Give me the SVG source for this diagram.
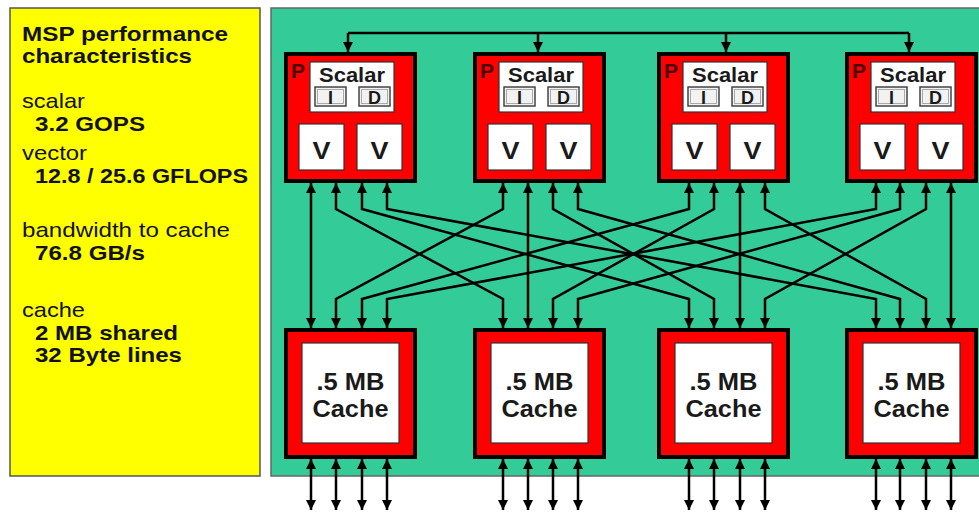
<svg xmlns="http://www.w3.org/2000/svg" width="979" height="512" viewBox="0 0 979 512">
<style>
.panel{fill:#ffff00;stroke:#555;stroke-width:1.5}
.green{fill:#33cc99;stroke:#666;stroke-width:1.5}
.box{fill:#ff0000;stroke:#000;stroke-width:4}
.wb{fill:#fff;stroke:#333;stroke-width:1.2}
.sb{fill:#f2f2f2;stroke:#444;stroke-width:1.5}
.sbi{fill:none;stroke:#aaa;stroke-width:1}
.lt{font-family:"Liberation Sans",Arial,sans-serif;font-size:21px;fill:#111}
.b{font-weight:bold}
.t{font-family:"Liberation Sans",Arial,sans-serif;font-weight:bold;fill:#1a1a1a;text-anchor:middle}
.p{font-family:"Liberation Sans",Arial,sans-serif;font-weight:bold;font-size:21px;fill:#4a0000}
.c{fill:none;stroke:#000;stroke-width:2.5;marker-start:url(#ah);marker-end:url(#ah)}
.bus{fill:none;stroke:#000;stroke-width:2.5}
.drop{fill:none;stroke:#000;stroke-width:2.5;marker-end:url(#ah)}
</style>
<defs>
<marker id="ah" viewBox="0 0 10 10" refX="10" refY="5" markerWidth="10" markerHeight="10" markerUnits="userSpaceOnUse" orient="auto-start-reverse">
<path d="M0,0 L10,5 L0,10 z" fill="#000"/>
</marker>
</defs>
<g id="info-panel">
<rect class="panel" x="10" y="8" width="250" height="468"/>
<text class="lt b" x="22" y="41" textLength="206" lengthAdjust="spacingAndGlyphs">MSP performance</text>
<text class="lt b" x="22" y="63" textLength="170" lengthAdjust="spacingAndGlyphs">characteristics</text>
<text class="lt" x="22" y="108" textLength="63" lengthAdjust="spacingAndGlyphs">scalar</text>
<text class="lt b" x="35" y="131" textLength="110" lengthAdjust="spacingAndGlyphs">3.2 GOPS</text>
<text class="lt" x="22" y="160" textLength="65" lengthAdjust="spacingAndGlyphs">vector</text>
<text class="lt b" x="35" y="183" textLength="213" lengthAdjust="spacingAndGlyphs">12.8 / 25.6 GFLOPS</text>
<text class="lt" x="22" y="237" textLength="208" lengthAdjust="spacingAndGlyphs">bandwidth to cache</text>
<text class="lt b" x="35" y="260" textLength="110" lengthAdjust="spacingAndGlyphs">76.8 GB/s</text>
<text class="lt" x="22" y="317" textLength="63" lengthAdjust="spacingAndGlyphs">cache</text>
<text class="lt b" x="35" y="340" textLength="143" lengthAdjust="spacingAndGlyphs">2 MB shared</text>
<text class="lt b" x="35" y="362" textLength="147" lengthAdjust="spacingAndGlyphs">32 Byte lines</text>
</g>
<g id="chip">
<rect class="green" x="271" y="8" width="712" height="468"/>
</g>
<g id="connectors">
<path class="bus" d="M348,33 H909"/>
<path class="drop" d="M348,33 V52"/>
<path class="drop" d="M538,33 V52"/>
<path class="drop" d="M726,33 V52"/>
<path class="drop" d="M909,33 V52"/>
<path class="c" d="M311,183 V328"/>
<path class="c" d="M336,183 V209 L503,299 V328"/>
<path class="c" d="M362,183 V209 L689,299 V328"/>
<path class="c" d="M387,183 V209 L876,299 V328"/>
<path class="c" d="M503,183 V209 L336,299 V328"/>
<path class="c" d="M528,183 V328"/>
<path class="c" d="M553,183 V209 L714,299 V328"/>
<path class="c" d="M578,183 V209 L900,299 V328"/>
<path class="c" d="M689,183 V209 L362,299 V328"/>
<path class="c" d="M714,183 V209 L553,299 V328"/>
<path class="c" d="M740,183 V328"/>
<path class="c" d="M765,183 V209 L926,299 V328"/>
<path class="c" d="M876,183 V209 L387,299 V328"/>
<path class="c" d="M900,183 V209 L578,299 V328"/>
<path class="c" d="M926,183 V209 L765,299 V328"/>
<path class="c" d="M951,183 V328"/>
<path class="c" d="M311,459 V510"/><path class="c" d="M336,459 V510"/><path class="c" d="M362,459 V510"/><path class="c" d="M387,459 V510"/>
<path class="c" d="M503,459 V510"/><path class="c" d="M528,459 V510"/><path class="c" d="M553,459 V510"/><path class="c" d="M578,459 V510"/>
<path class="c" d="M689,459 V510"/><path class="c" d="M714,459 V510"/><path class="c" d="M740,459 V510"/><path class="c" d="M765,459 V510"/>
<path class="c" d="M876,459 V510"/><path class="c" d="M900,459 V510"/><path class="c" d="M926,459 V510"/><path class="c" d="M951,459 V510"/>
</g>
<g id="proc1" transform="translate(284,0)">
<rect class="box" x="2" y="54" width="129" height="127"/>
<text class="p" x="7" y="78">P</text>
<rect class="wb" x="26" y="62" width="84" height="50"/>
<text class="t" x="68" y="82" font-size="20" textLength="66" lengthAdjust="spacingAndGlyphs">Scalar</text>
<rect class="sb" x="31" y="87" width="31" height="19"/><rect class="sbi" x="33.5" y="89.5" width="26" height="14"/>
<text class="t" x="46.5" y="104" font-size="18">I</text>
<rect class="sb" x="75" y="87" width="31" height="19"/><rect class="sbi" x="77.5" y="89.5" width="26" height="14"/>
<text class="t" x="90.5" y="104" font-size="18">D</text>
<rect class="wb" x="15" y="124" width="45" height="46"/>
<text class="t" x="37.5" y="159" font-size="24" textLength="18" lengthAdjust="spacingAndGlyphs">V</text>
<rect class="wb" x="73" y="124" width="45" height="46"/>
<text class="t" x="95.5" y="159" font-size="24" textLength="18" lengthAdjust="spacingAndGlyphs">V</text>
</g>
<g id="proc2" transform="translate(473,0)">
<rect class="box" x="2" y="54" width="129" height="127"/>
<text class="p" x="7" y="78">P</text>
<rect class="wb" x="26" y="62" width="84" height="50"/>
<text class="t" x="68" y="82" font-size="20" textLength="66" lengthAdjust="spacingAndGlyphs">Scalar</text>
<rect class="sb" x="31" y="87" width="31" height="19"/><rect class="sbi" x="33.5" y="89.5" width="26" height="14"/>
<text class="t" x="46.5" y="104" font-size="18">I</text>
<rect class="sb" x="75" y="87" width="31" height="19"/><rect class="sbi" x="77.5" y="89.5" width="26" height="14"/>
<text class="t" x="90.5" y="104" font-size="18">D</text>
<rect class="wb" x="15" y="124" width="45" height="46"/>
<text class="t" x="37.5" y="159" font-size="24" textLength="18" lengthAdjust="spacingAndGlyphs">V</text>
<rect class="wb" x="73" y="124" width="45" height="46"/>
<text class="t" x="95.5" y="159" font-size="24" textLength="18" lengthAdjust="spacingAndGlyphs">V</text>
</g>
<g id="proc3" transform="translate(657,0)">
<rect class="box" x="2" y="54" width="129" height="127"/>
<text class="p" x="7" y="78">P</text>
<rect class="wb" x="26" y="62" width="84" height="50"/>
<text class="t" x="68" y="82" font-size="20" textLength="66" lengthAdjust="spacingAndGlyphs">Scalar</text>
<rect class="sb" x="31" y="87" width="31" height="19"/><rect class="sbi" x="33.5" y="89.5" width="26" height="14"/>
<text class="t" x="46.5" y="104" font-size="18">I</text>
<rect class="sb" x="75" y="87" width="31" height="19"/><rect class="sbi" x="77.5" y="89.5" width="26" height="14"/>
<text class="t" x="90.5" y="104" font-size="18">D</text>
<rect class="wb" x="15" y="124" width="45" height="46"/>
<text class="t" x="37.5" y="159" font-size="24" textLength="18" lengthAdjust="spacingAndGlyphs">V</text>
<rect class="wb" x="73" y="124" width="45" height="46"/>
<text class="t" x="95.5" y="159" font-size="24" textLength="18" lengthAdjust="spacingAndGlyphs">V</text>
</g>
<g id="proc4" transform="translate(845,0)">
<rect class="box" x="2" y="54" width="129" height="127"/>
<text class="p" x="7" y="78">P</text>
<rect class="wb" x="26" y="62" width="84" height="50"/>
<text class="t" x="68" y="82" font-size="20" textLength="66" lengthAdjust="spacingAndGlyphs">Scalar</text>
<rect class="sb" x="31" y="87" width="31" height="19"/><rect class="sbi" x="33.5" y="89.5" width="26" height="14"/>
<text class="t" x="46.5" y="104" font-size="18">I</text>
<rect class="sb" x="75" y="87" width="31" height="19"/><rect class="sbi" x="77.5" y="89.5" width="26" height="14"/>
<text class="t" x="90.5" y="104" font-size="18">D</text>
<rect class="wb" x="15" y="124" width="45" height="46"/>
<text class="t" x="37.5" y="159" font-size="24" textLength="18" lengthAdjust="spacingAndGlyphs">V</text>
<rect class="wb" x="73" y="124" width="45" height="46"/>
<text class="t" x="95.5" y="159" font-size="24" textLength="18" lengthAdjust="spacingAndGlyphs">V</text>
</g>
<g id="cache1" transform="translate(284,0)">
<rect class="box" x="2" y="330" width="129" height="127"/>
<rect class="wb" x="18" y="343" width="97" height="100"/>
<text class="t" x="66.5" y="390" font-size="23" textLength="68" lengthAdjust="spacingAndGlyphs">.5 MB</text>
<text class="t" x="66.5" y="417" font-size="23" textLength="76" lengthAdjust="spacingAndGlyphs">Cache</text>
</g>
<g id="cache2" transform="translate(473,0)">
<rect class="box" x="2" y="330" width="129" height="127"/>
<rect class="wb" x="18" y="343" width="97" height="100"/>
<text class="t" x="66.5" y="390" font-size="23" textLength="68" lengthAdjust="spacingAndGlyphs">.5 MB</text>
<text class="t" x="66.5" y="417" font-size="23" textLength="76" lengthAdjust="spacingAndGlyphs">Cache</text>
</g>
<g id="cache3" transform="translate(657,0)">
<rect class="box" x="2" y="330" width="129" height="127"/>
<rect class="wb" x="18" y="343" width="97" height="100"/>
<text class="t" x="66.5" y="390" font-size="23" textLength="68" lengthAdjust="spacingAndGlyphs">.5 MB</text>
<text class="t" x="66.5" y="417" font-size="23" textLength="76" lengthAdjust="spacingAndGlyphs">Cache</text>
</g>
<g id="cache4" transform="translate(845,0)">
<rect class="box" x="2" y="330" width="129" height="127"/>
<rect class="wb" x="18" y="343" width="97" height="100"/>
<text class="t" x="66.5" y="390" font-size="23" textLength="68" lengthAdjust="spacingAndGlyphs">.5 MB</text>
<text class="t" x="66.5" y="417" font-size="23" textLength="76" lengthAdjust="spacingAndGlyphs">Cache</text>
</g>
</svg>
